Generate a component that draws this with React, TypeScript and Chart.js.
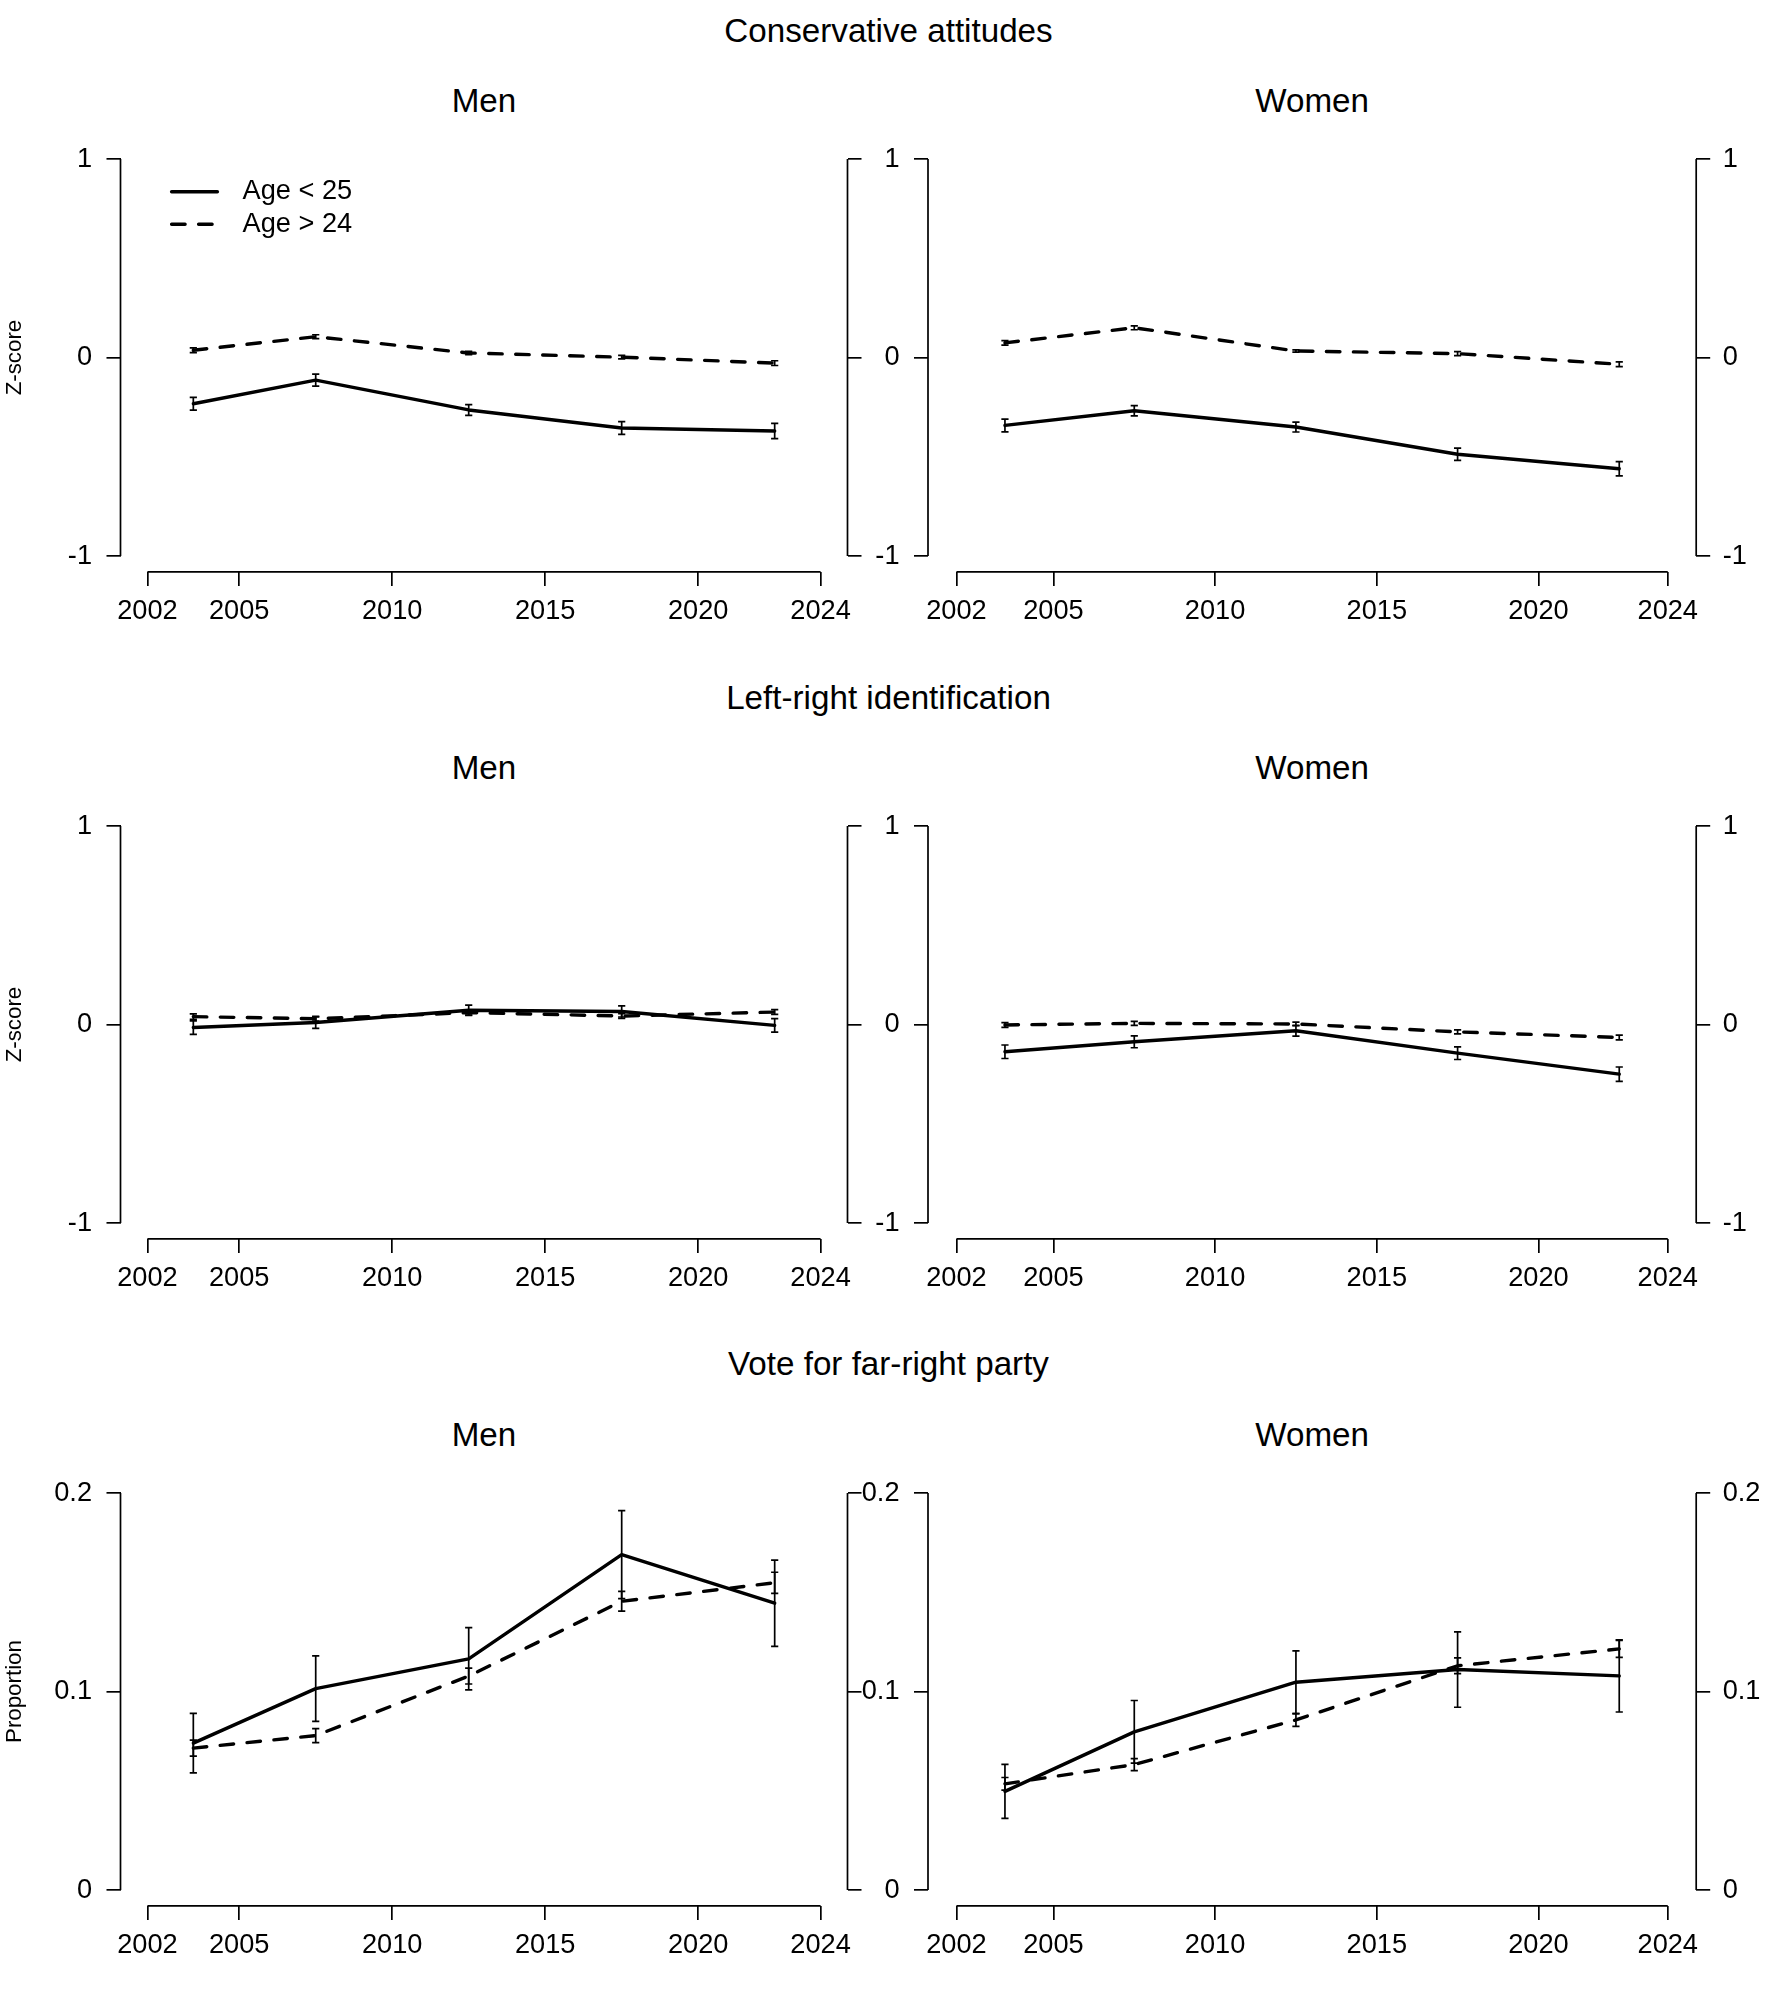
import React, { useEffect, useRef } from "react";
import { Chart, registerables } from "chart.js";

Chart.register(...registerables);

// ---------------- data ----------------
const surveyYears = [2003.5, 2007.5, 2012.5, 2017.5, 2022.5];
const xTickValues = [2002, 2005, 2010, 2015, 2020, 2024];
const zTickValues = [-1, 0, 1];
const propTickValues = [0, 0.1, 0.2];
const seriesLabels = ["Age < 25", "Age > 24"];
const rowTitles = ["Conservative attitudes", "Left-right identification", "Vote for far-right party"];
const colTitles = ["Men", "Women"];
const yAxisTitles = ["Z-score", "Z-score", "Proportion"];

const consMenYoung = [-0.233, -0.114, -0.264, -0.355, -0.37];
const consMenYoungErr = [0.032, 0.03, 0.027, 0.032, 0.038];
const consMenOld = [0.037, 0.105, 0.023, 0.002, -0.028];
const consMenOldErr = [0.012, 0.01, 0.008, 0.009, 0.012];

const consWomenYoung = [-0.342, -0.268, -0.35, -0.487, -0.56];
const consWomenYoungErr = [0.032, 0.026, 0.025, 0.031, 0.036];
const consWomenOld = [0.074, 0.15, 0.033, 0.02, -0.034];
const consWomenOldErr = [0.011, 0.01, 0.006, 0.01, 0.012];

const lrMenYoung = [-0.015, 0.01, 0.072, 0.066, -0.004];
const lrMenYoungErr = [0.034, 0.029, 0.026, 0.028, 0.034];
const lrMenOld = [0.04, 0.029, 0.06, 0.043, 0.063];
const lrMenOldErr = [0.014, 0.012, 0.012, 0.012, 0.012];

const lrWomenYoung = [-0.137, -0.087, -0.031, -0.144, -0.25];
const lrWomenYoungErr = [0.034, 0.03, 0.027, 0.032, 0.036];
const lrWomenOld = [-0.002, 0.006, 0.003, -0.037, -0.065];
const lrWomenOldErr = [0.012, 0.01, 0.009, 0.01, 0.012];

const farMenYoung = [0.074, 0.1015, 0.1165, 0.169, 0.1445];
const farMenYoungErr = [0.015, 0.0165, 0.0157, 0.0222, 0.0217];
const farMenOld = [0.0715, 0.0778, 0.1078, 0.1455, 0.1548];
const farMenOldErr = [0.004, 0.0035, 0.004, 0.005, 0.0053];

const farWomenYoung = [0.0497, 0.0797, 0.1047, 0.1111, 0.1079];
const farWomenYoungErr = [0.0136, 0.0158, 0.0158, 0.019, 0.0182];
const farWomenOld = [0.0535, 0.0632, 0.0857, 0.113, 0.1215];
const farWomenOldErr = [0.0032, 0.003, 0.0032, 0.004, 0.0043];

// ---------------- layout / style ----------------
const PAGE_W = 1777;
const PAGE_H = 2000;
const CANVAS_H = 666;
const ROW_TOPS = [0, 667, 1334];
const AREA_TOP = 143.2;
const AREA_BOTTOM = 571.9;
const COLS = [
  { left: 120.5, right: 847.5, leftLabels: true, rightLabels: false },
  { left: 928.0, right: 1696.2, leftLabels: true, rightLabels: true },
];
const FONT = "'Liberation Sans', Arial, Helvetica, sans-serif";
const TICK_FONT = 27.2;
const TITLE_FONT = 33.2;
const YLAB_FONT = 22.3;
const TICK_LEN = 14;
const AXIS_LW = 1.7;
const DATA_LW = 3.4;
const ERR_LW = 1.7;
const CAP = 3.6;
const ROW_TITLE_Y = [30.1, 697.7, 1363.4];
const ROW_TITLE_X = 888.5;
const COL_TITLE_DY = 99.8;

type Panel = {
  row: number;
  col: number;
  yTicks: number[];
  young: number[];
  youngErr: number[];
  old: number[];
  oldErr: number[];
  yTitle?: string;
  legend?: boolean;
};

const panels: Panel[] = [
  { row: 0, col: 0, yTicks: zTickValues, young: consMenYoung, youngErr: consMenYoungErr, old: consMenOld, oldErr: consMenOldErr, yTitle: yAxisTitles[0], legend: true },
  { row: 0, col: 1, yTicks: zTickValues, young: consWomenYoung, youngErr: consWomenYoungErr, old: consWomenOld, oldErr: consWomenOldErr },
  { row: 1, col: 0, yTicks: zTickValues, young: lrMenYoung, youngErr: lrMenYoungErr, old: lrMenOld, oldErr: lrMenOldErr, yTitle: yAxisTitles[1] },
  { row: 1, col: 1, yTicks: zTickValues, young: lrWomenYoung, youngErr: lrWomenYoungErr, old: lrWomenOld, oldErr: lrWomenOldErr },
  { row: 2, col: 0, yTicks: propTickValues, young: farMenYoung, youngErr: farMenYoungErr, old: farMenOld, oldErr: farMenOldErr, yTitle: yAxisTitles[2] },
  { row: 2, col: 1, yTicks: propTickValues, young: farWomenYoung, youngErr: farWomenYoungErr, old: farWomenOld, oldErr: farWomenOldErr },
];

// error bars + R-style axis lines (span first..last tick only)
const rStylePlugin = {
  id: "rStyle",
  afterDatasetsDraw(chart: any) {
    const ctx = chart.ctx;
    const xs = chart.scales.x;
    const ys = chart.scales.y;
    ctx.save();
    ctx.strokeStyle = "#000";
    ctx.lineWidth = ERR_LW;
    ctx.lineCap = "butt";
    chart.data.datasets.forEach((ds: any) => {
      const errs: number[] = ds.errors || [];
      ds.data.forEach((p: any, i: number) => {
        const e = errs[i] || 0;
        const px = xs.getPixelForValue(p.x);
        const y1 = ys.getPixelForValue(p.y - e);
        const y2 = ys.getPixelForValue(p.y + e);
        ctx.beginPath();
        ctx.moveTo(px, y1);
        ctx.lineTo(px, y2);
        ctx.moveTo(px - CAP, y1);
        ctx.lineTo(px + CAP, y1);
        ctx.moveTo(px - CAP, y2);
        ctx.lineTo(px + CAP, y2);
        ctx.stroke();
      });
    });
    ctx.restore();
  },
  afterDraw(chart: any) {
    const ctx = chart.ctx;
    const area = chart.chartArea;
    const xs = chart.scales.x;
    ctx.save();
    ctx.strokeStyle = "#000";
    ctx.lineWidth = AXIS_LW;
    ctx.lineCap = "butt";
    const xt = xs.ticks;
    ctx.beginPath();
    ctx.moveTo(xs.getPixelForValue(xt[0].value), area.bottom);
    ctx.lineTo(xs.getPixelForValue(xt[xt.length - 1].value), area.bottom);
    ["y", "y2"].forEach((id) => {
      const s = chart.scales[id];
      const t = s.ticks;
      const xPos = id === "y" ? area.left : area.right;
      ctx.moveTo(xPos, s.getPixelForValue(t[0].value));
      ctx.lineTo(xPos, s.getPixelForValue(t[t.length - 1].value));
    });
    ctx.stroke();
    ctx.restore();
  },
};

const LEG_X0 = 171.6;
const LEG_X1 = 217.4;
const LEG_Y0 = 191.8;
const LEG_DY = 32.5;
const LEG_TX = 242.6;

const legendPlugin = {
  id: "rLegend",
  afterDraw(chart: any) {
    const ctx = chart.ctx;
    ctx.save();
    ctx.font = `${TICK_FONT}px ${FONT}`;
    ctx.fillStyle = "#000";
    ctx.textBaseline = "middle";
    ctx.textAlign = "left";
    chart.data.datasets.forEach((ds: any, i: number) => {
      const y = LEG_Y0 + i * LEG_DY;
      ctx.beginPath();
      ctx.strokeStyle = ds.borderColor;
      ctx.lineWidth = ds.borderWidth;
      ctx.lineCap = ds.borderCapStyle || "round";
      ctx.setLineDash(ds.borderDash || []);
      ctx.moveTo(LEG_X0, y);
      ctx.lineTo(LEG_X1, y);
      ctx.stroke();
      ctx.setLineDash([]);
      ctx.fillText(ds.label, LEG_TX, y);
    });
    ctx.restore();
  },
};

function buildConfig(p: Panel): any {
  const col = COLS[p.col];
  const lo = p.yTicks[0];
  const hi = p.yTicks[p.yTicks.length - 1];
  const yPad = (hi - lo) * 0.04;
  const xLo = xTickValues[0];
  const xHi = xTickValues[xTickValues.length - 1];
  const xPad = (xHi - xLo) * 0.04;

  const gridOpts = {
    display: true,
    drawOnChartArea: false,
    drawTicks: true,
    tickLength: TICK_LEN,
    color: "#000",
    lineWidth: AXIS_LW,
  };
  const tickFont = { family: FONT, size: TICK_FONT, lineHeight: 1.2 };

  const yScale = (position: string, width: number, showLabels: boolean, pad: number, title?: string) => ({
    type: "linear",
    position,
    min: lo - yPad,
    max: hi + yPad,
    afterBuildTicks: (s: any) => {
      s.ticks = p.yTicks.map((v) => ({ value: v }));
    },
    afterFit: (s: any) => {
      s.width = width;
    },
    border: { display: false },
    grid: gridOpts,
    ticks: {
      autoSkip: false,
      padding: pad,
      color: showLabels ? "#000" : "rgba(0,0,0,0)",
      font: tickFont,
      callback: (v: any) => String(v),
    },
    title: {
      display: !!title,
      text: title || "",
      color: "#000",
      font: { family: FONT, size: YLAB_FONT, lineHeight: 1.2 },
      padding: { top: 1, bottom: 0 },
    },
  });

  const mk = (vals: number[]) => surveyYears.map((x, i) => ({ x, y: vals[i] }));

  return {
    type: "line",
    data: {
      datasets: [
        {
          label: seriesLabels[0],
          data: mk(p.young),
          errors: p.youngErr,
          borderColor: "#000",
          borderWidth: DATA_LW,
          borderCapStyle: "round",
          borderJoinStyle: "round",
          pointRadius: 0,
          fill: false,
          tension: 0,
          yAxisID: "y",
        },
        {
          label: seriesLabels[1],
          data: mk(p.old),
          errors: p.oldErr,
          borderColor: "#000",
          borderWidth: DATA_LW,
          borderDash: [13.5, 13.5],
          borderCapStyle: "round",
          borderJoinStyle: "round",
          pointRadius: 0,
          fill: false,
          tension: 0,
          yAxisID: "y",
        },
      ],
    },
    options: {
      animation: false,
      responsive: false,
      maintainAspectRatio: false,
      events: [],
      layout: { padding: { top: AREA_TOP, left: 0, right: 0, bottom: 0 } },
      plugins: {
        legend: { display: false },
        tooltip: { enabled: false },
        title: { display: false },
      },
      scales: {
        x: {
          type: "linear",
          position: "bottom",
          min: xLo - xPad,
          max: xHi + xPad,
          afterBuildTicks: (s: any) => {
            s.ticks = xTickValues.map((v) => ({ value: v }));
          },
          afterFit: (s: any) => {
            s.height = CANVAS_H - AREA_BOTTOM;
          },
          border: { display: false },
          grid: gridOpts,
          ticks: {
            autoSkip: false,
            maxRotation: 0,
            minRotation: 0,
            padding: 9,
            color: "#000",
            font: tickFont,
            callback: (v: any) => String(v),
          },
        },
        y: yScale("left", col.left, col.leftLabels, 14.5, p.yTitle),
        y2: yScale("right", PAGE_W - col.right, col.rightLabels, 12.5),
      },
    },
    plugins: p.legend ? [rStylePlugin, legendPlugin] : [rStylePlugin],
  };
}

function PanelChart({ panel }: { panel: Panel }) {
  const ref = useRef<HTMLCanvasElement | null>(null);
  useEffect(() => {
    if (!ref.current) return;
    const chart = new Chart(ref.current, buildConfig(panel));
    return () => chart.destroy();
  }, [panel]);
  return (
    <canvas
      ref={ref}
      width={PAGE_W}
      height={CANVAS_H}
      style={{
        position: "absolute",
        left: 0,
        top: ROW_TOPS[panel.row],
        width: PAGE_W,
        height: CANVAS_H,
      }}
    />
  );
}

function TextLabel({ text, cx, cy, size }: { text: string; cx: number; cy: number; size: number }) {
  return (
    <div
      style={{
        position: "absolute",
        left: cx - 600,
        width: 1200,
        top: cy - size * 0.4885,
        height: size,
        lineHeight: `${size}px`,
        fontSize: size,
        fontFamily: FONT,
        color: "#000",
        textAlign: "center",
        whiteSpace: "nowrap",
        pointerEvents: "none",
      }}
    >
      {text}
    </div>
  );
}

export default function App() {
  return (
    <div
      style={{
        position: "absolute",
        left: 0,
        top: 0,
        width: PAGE_W,
        height: PAGE_H,
        background: "#fff",
        overflow: "hidden",
      }}
    >
      {rowTitles.map((t, r) => (
        <TextLabel key={"rt" + r} text={t} cx={ROW_TITLE_X} cy={ROW_TITLE_Y[r]} size={TITLE_FONT} />
      ))}
      {ROW_TOPS.map((top, r) =>
        COLS.map((c, ci) => (
          <TextLabel
            key={"ct" + r + "-" + ci}
            text={colTitles[ci]}
            cx={(c.left + c.right) / 2}
            cy={top + COL_TITLE_DY}
            size={TITLE_FONT}
          />
        ))
      )}
      {panels.map((p, i) => (
        <PanelChart key={i} panel={p} />
      ))}
    </div>
  );
}
